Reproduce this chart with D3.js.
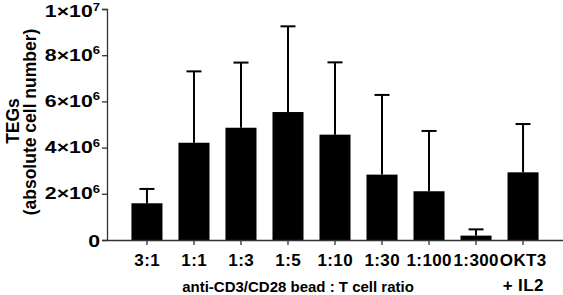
<!DOCTYPE html>
<html>
<head>
<meta charset="utf-8">
<script src="https://cdn.jsdelivr.net/npm/d3@7"></script>
<style>
  body { margin: 0; background: #fff; }
  text { font-family: "Liberation Sans", Arial, sans-serif; font-weight: bold; fill: #000; }
</style>
</head>
<body>
<div id="chart"></div>
<script>
// ratio groups (multi-line labels split on "|")
const categories = ["3:1", "1:1", "1:3", "1:5", "1:10", "1:30", "1:100", "1:300", "OKT3|+ IL2"];
// mean TEG counts (x10^6) and upper error (SD, x10^6)
const means = [1.59, 4.21, 4.86, 5.54, 4.56, 2.83, 2.11, 0.19, 2.93];
const errors = [0.62, 3.09, 2.82, 3.71, 3.13, 3.45, 2.61, 0.27, 2.09];
// y tick labels: mantissa + power of ten
const yTicks = [0, 2e6, 4e6, 6e6, 8e6, 1e7];
const yTickBase = ["0", "2", "4", "6", "8", "1"];
const yTickExp = [null, "6", "6", "6", "6", "7"];

const width = 563;
const height = 295;

const svg = d3.select("#chart")
    .append("svg")
    .attr("width", width)
    .attr("height", height);

const x = d3.scaleBand()
    .domain(categories)
    .range([107, 563])
    .paddingInner(0.34)
    .paddingOuter(0.52);

const y = d3.scaleLinear()
    .domain([0, 1e7])
    .range([240, 9]);

const data = categories.map((c, i) => ({ cat: c, mean: means[i] * 1e6, err: errors[i] * 1e6 }));

// error bars (upper only) drawn first so bars cover the stem
const eb = svg.append("g").selectAll("g")
    .data(data)
    .enter()
    .append("g");

eb.append("line")
    .attr("x1", d => x(d.cat) + x.bandwidth() / 2)
    .attr("x2", d => x(d.cat) + x.bandwidth() / 2)
    .attr("y1", d => y(d.mean))
    .attr("y2", d => y(d.mean + d.err))
    .attr("stroke", "#000")
    .attr("stroke-width", 2);

eb.append("line")
    .attr("x1", d => x(d.cat) + x.bandwidth() / 2 - 7.5)
    .attr("x2", d => x(d.cat) + x.bandwidth() / 2 + 7.5)
    .attr("y1", d => y(d.mean + d.err))
    .attr("y2", d => y(d.mean + d.err))
    .attr("stroke", "#000")
    .attr("stroke-width", 2);

// bars
svg.append("g").selectAll("rect")
    .data(data)
    .enter()
    .append("rect")
    .attr("x", d => x(d.cat))
    .attr("y", d => y(d.mean))
    .attr("width", x.bandwidth())
    .attr("height", d => y(0) - y(d.mean))
    .attr("fill", "#000");

// y axis
const yAxis = svg.append("g")
    .attr("transform", "translate(107,0)")
    .call(d3.axisLeft(y).tickValues(yTicks).tickSize(5).tickFormat(""));
yAxis.select(".domain").attr("stroke", "#333").attr("stroke-width", 1.3);
yAxis.selectAll(".tick line").attr("stroke", "#333").attr("stroke-width", 1.3);

// labels are a bit wider than the plain font, so stretch them horizontally
const sx = 1.25;
const yLab = yAxis.selectAll(".tick")
    .append("text")
    .attr("transform", (d, i) => {
        const dy = i === 0 ? 6.5 : (i === yTicks.length - 1 ? 7.5 : 5);
        return `translate(-7,${dy}) scale(${sx},1)`;
    })
    .attr("text-anchor", "end")
    .style("font-size", "17px");

yLab.append("tspan")
    .text((d, i) => yTickExp[i] ? yTickBase[i] + "\u00d710" : yTickBase[i]);
yLab.filter((d, i) => yTickExp[i])
    .append("tspan")
    .attr("dy", -6.5)
    .style("font-size", "10.5px")
    .text(d => yTickExp[yTicks.indexOf(d)]);

// x axis
const xAxis = svg.append("g")
    .attr("transform", "translate(0,240)")
    .call(d3.axisBottom(x).tickSize(5).tickSizeOuter(0).tickFormat(""));
xAxis.select(".domain").attr("stroke", "#333").attr("stroke-width", 1.3);
xAxis.selectAll(".tick line").attr("stroke", "#333").attr("stroke-width", 1.3);

xAxis.selectAll(".tick")
    .append("text")
    .attr("text-anchor", "middle")
    .style("font-size", "17px")
    .style("letter-spacing", "0.4px")
    .selectAll("tspan")
    .data(d => d.split("|"))
    .enter()
    .append("tspan")
    .attr("x", 0.2)
    .attr("y", (d, i) => 26 + i * 24.5)
    .text(d => d);

// axis titles
svg.append("text")
    .attr("text-anchor", "middle")
    .attr("transform", "translate(19,121) rotate(-90)")
    .style("font-size", "17.5px")
    .text("TEGs");

svg.append("text")
    .attr("text-anchor", "middle")
    .attr("transform", "translate(36,122) rotate(-90)")
    .style("font-size", "17.5px")
    .text("(absolute cell number)");

svg.append("text")
    .attr("x", 298)
    .attr("y", 292)
    .attr("text-anchor", "middle")
    .style("font-size", "15px")
    .text("anti-CD3/CD28 bead : T cell ratio");
</script>
</body>
</html>
